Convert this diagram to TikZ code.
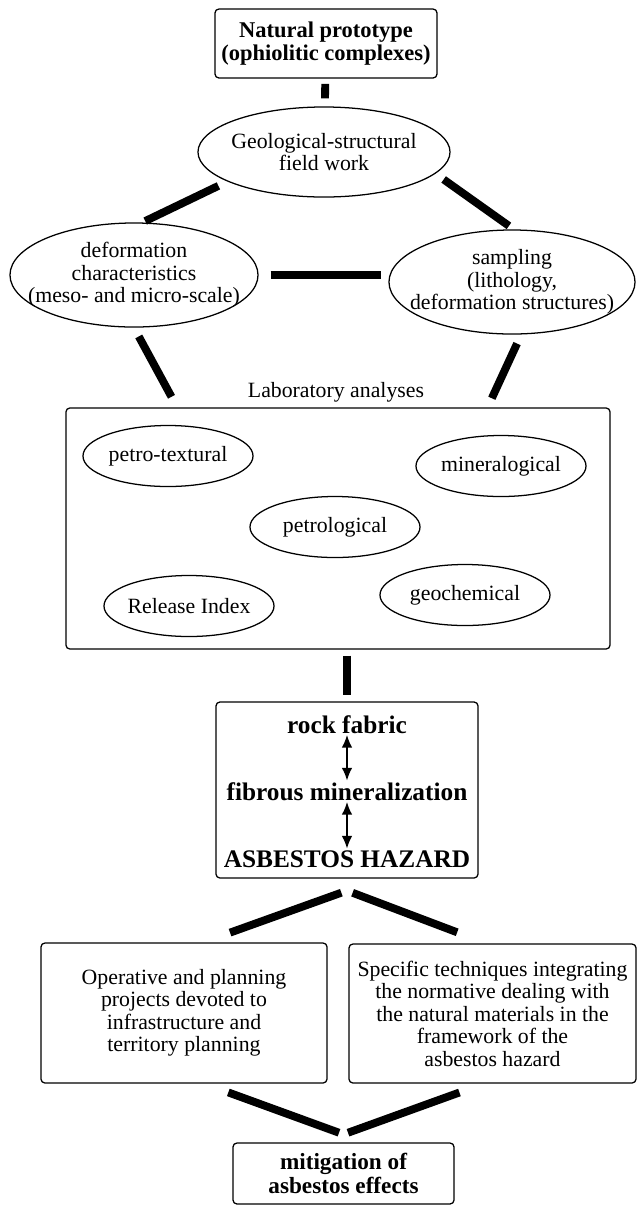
\documentclass[tikz,border=0pt]{standalone}
\usepackage{fontspec}
\setmainfont{Liberation Serif}
\usepackage{tikz}
\usetikzlibrary{arrows.meta, positioning, shapes.geometric, calc}

\begin{document}
\begin{tikzpicture}[x=0.025cm, y=-0.025cm,
  font=\fontsize{15.5}{16}\selectfont,
  box/.style={draw, rounded corners=0.1cm, line width=0.9pt, align=center, inner sep=0pt},
  oval/.style={draw, ellipse, line width=0.9pt, align=center, inner sep=-0.6cm},
  smalloval/.style={oval, minimum width=4.25cm, minimum height=1.525cm},
  hazard/.style={font=\fontsize{18}{18}\selectfont\bfseries, inner sep=1pt, anchor=base},
  link/.style={line width=5.6pt},
  dbl/.style={{Latex[length=9pt,width=7.5pt]}-{Latex[length=9pt,width=7.5pt]}, line width=1pt}]
  \useasboundingbox (0,0) rectangle (637,1206);
  % Prototipo y trabajo de campo
  \node[box, minimum width=5.55cm, minimum height=1.725cm, font=\fontsize{16}{16}\selectfont\bfseries] (proto) at (326,43.5) {Natural prototype\\(ophiolitic complexes)};
  \node[oval, minimum width=6.3cm, minimum height=2.25cm] (geo) at (324,152) {Geological-structural\\field work};
  \node[oval, minimum width=6.2cm, minimum height=2.6cm] (defo) at (134,275) {deformation\\characteristics\\(meso- and micro-scale)};
  \node[oval, minimum width=6.15cm, minimum height=2.6cm] (samp) at (512,282) {sampling\\(lithology,\\deformation structures)};
  % Laboratory analyses
  \node[box, minimum width=13.6cm, minimum height=6.025cm] (lab) at (338,528.5) {};
  \node (labname) at (336,392) {Laboratory analyses};
  \node[smalloval] (ptex) at (168,456) {petro-textural};
  \node[smalloval] (miner) at (501,466) {mineralogical};
  \node[smalloval] (petro) at (335,527) {petrological};
  \node[smalloval] (relidx) at (189,606) {Release Index};
  \node[smalloval] (geoch) at (465,595) {geochemical};
  % Rock fabric - hazard
  \node[box, minimum width=6.55cm, minimum height=4.4cm] (rock) at (347,790) {};
  \node[hazard] (rf) at (347,733) {rock fabric};
  \node[hazard] (fm) at (347,800) {fibrous mineralization};
  \node[hazard] (ah) at (347,867) {ASBESTOS HAZARD};
  \draw[dbl] (rf.south) -- (fm.north);
  \draw[dbl] (fm.south) -- (ah.north);
  % Applications
  \node[box, minimum width=7.15cm, minimum height=3.5cm] (opl) at (184,1013) {Operative and planning\\projects devoted to\\infrastructure and\\territory planning};
  \node[box, minimum width=7.175cm, minimum height=3.475cm] (spec) at (492.5,1013.5) {Specific techniques integrating\\the normative dealing with\\the natural materials in the\\framework of the\\asbestos hazard};
  \node[box, minimum width=5.525cm, minimum height=1.525cm, font=\fontsize{16.5}{16.5}\selectfont\bfseries] (mitig) at (343.5,1173.5) {mitigation of\\asbestos effects};
  \coordinate[below=0.3cm of rock.south] (fork);
  \coordinate[above=0.2cm of mitig.north] (join);
  % Connectors
  \draw[link, shorten <=0.13cm, shorten >=0.2cm] (proto) -- (geo);
  \draw[link, shorten <=0.25cm, shorten >=0.08cm] (geo.197) -- (defo.81);
  \draw[link, shorten <=0.25cm, shorten >=0.15cm] (geo.349) -- (samp.88);
  \draw[link, shorten <=0.3cm, shorten >=0.18cm] (defo.east) -- (samp.west |- defo.east);
  \draw[link, shorten <=0.25cm, shorten >=0.3cm] (defo.south) -- (lab.143);
  \draw[link, shorten <=0.25cm, shorten >=0.25cm] (samp.280) -- (lab.39);
  \draw[link, shorten <=0.15cm, shorten >=0.15cm] (lab.south -| rock.north) -- (rock.north);
  \draw[link, shorten <=0.15cm, shorten >=0.72cm] (fork) -- (opl.75);
  \draw[link, shorten <=0.15cm, shorten >=0.78cm] (fork) -- (spec.95);
  \draw[link, shorten <=0.64cm, shorten >=0.12cm] (opl.286) -- (join);
  \draw[link, shorten <=0.65cm, shorten >=0.12cm] (spec.263) -- (join);
\end{tikzpicture}
\end{document}
